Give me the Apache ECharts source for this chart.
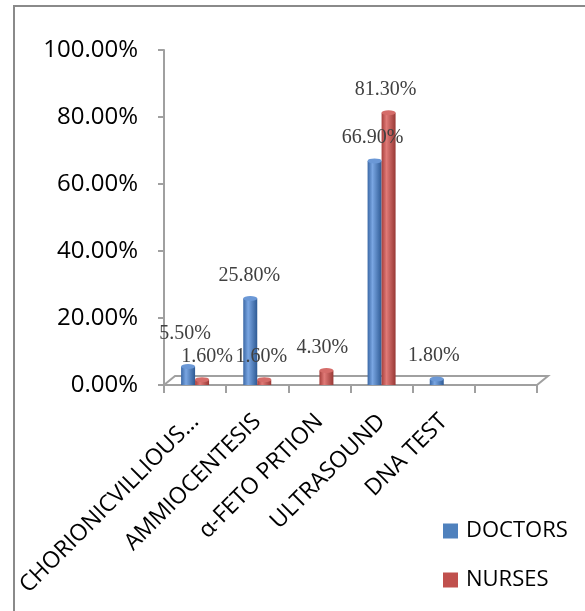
<!DOCTYPE html>
<html>
<head>
<meta charset="utf-8">
<script src="https://cdn.jsdelivr.net/npm/echarts@6/dist/echarts.min.js"></script>
<style>
  html, body { margin: 0; padding: 0; background: #fff; }
  #chart { width: 585px; height: 611px; }
</style>
</head>
<body>
<div id="chart"></div>
<script>
// Prenatal diagnostic tests known by doctors and nurses
const categories = ['CHORIONICVILLIOUS...', 'AMMIOCENTESIS', 'α-FETO PRTION', 'ULTRASOUND', 'DNA TEST', ''];
const doctors = [0.055, 0.258, null, 0.669, 0.018, null];
const nurses  = [0.016, 0.016, 0.043, 0.813, null, null];
const yTicks = [0, 0.2, 0.4, 0.6, 0.8, 1.0];

// label nudges [dx, dy] per category, kept apart from the values
const doctorNudge = [[-3, -10], [-1, 0], [0, 0], [-2, 0], [-3, 0], [0, 0]];
const nurseNudge  = [[5, 0], [-3, 0], [-4, 0], [-3, 0], [0, 0], [0, 0]];

const BLUE = '#4F81BD';
const RED = '#C0504D';

function pct(v) { return (v * 100).toFixed(2) + '%'; }

function cylinder(dark, light, edge) {
  return new echarts.graphic.LinearGradient(0, 0, 1, 0, [
    { offset: 0, color: dark },
    { offset: 0.35, color: light },
    { offset: 1, color: edge }
  ]);
}

function barData(values, nudge) {
  return values.map((v, i) => v == null ? '-' : {
    value: v,
    label: { offset: nudge[i] }
  });
}

const labelStyle = {
  show: true,
  position: 'top',
  distance: 13,
  fontFamily: 'Liberation Serif',
  fontSize: 20,
  color: '#404040',
  formatter: p => pct(p.value)
};

const chart = echarts.init(document.getElementById('chart'), null, { renderer: 'canvas' });

chart.setOption({
  animation: false,
  backgroundColor: '#fff',
  graphic: [{
    type: 'polyline',
    shape: { points: [[14, 611], [14, 6], [585, 6]] },
    style: { stroke: '#8a8a8a', lineWidth: 2, fill: null }
  }],
  grid: { left: 164, right: 48, top: 50, bottom: 226 },
  legend: {
    orient: 'vertical',
    left: 438,
    top: 515,
    itemWidth: 15,
    itemHeight: 15,
    itemGap: 27,
    icon: 'rect',
    textStyle: { fontFamily: 'Open Sans', fontSize: 22, color: '#000', padding: [0, 0, 0, 3] },
    data: [
      { name: 'DOCTORS', itemStyle: { color: BLUE } },
      { name: 'NURSES', itemStyle: { color: RED } }
    ]
  },
  xAxis: {
    type: 'category',
    data: categories,
    boundaryGap: true,
    axisLine: { show: true, lineStyle: { color: '#a0a0a0', width: 2 } },
    axisTick: { show: true, interval: 0, length: 8, lineStyle: { color: '#a0a0a0', width: 2 } },
    axisLabel: {
      interval: 0,
      rotate: 45,
      margin: 33,
      fontFamily: 'Open Sans',
      fontSize: 23,
      color: '#000'
    }
  },
  yAxis: {
    type: 'value',
    min: yTicks[0],
    max: yTicks[yTicks.length - 1],
    interval: 0.2,
    axisLine: { show: true, lineStyle: { color: '#a0a0a0', width: 2 } },
    axisTick: { show: true, length: 6, lineStyle: { color: '#a0a0a0', width: 2 } },
    splitLine: { show: false },
    axisLabel: {
      margin: 26,
      fontFamily: 'Open Sans',
      fontSize: 24,
      color: '#000',
      padding: [5, 0, 0, 0],
      formatter: v => pct(v)
    }
  },
  series: [
    {
      // floor of the plot, drawn as a shallow slab under the bars
      type: 'custom',
      silent: true,
      z: 1,
      clip: false,
      data: [[0, 0]],
      renderItem: function (params, api) {
        const bw = api.size([1, 0])[0];
        const a = api.coord([0, 0]);
        const b = api.coord([categories.length - 1, 0]);
        const x0 = a[0] - bw / 2, x1 = b[0] + bw / 2, y = a[1];
        const dx = 11, dy = -9;
        return {
          type: 'polygon',
          shape: { points: [[x0, y], [x1, y], [x1 + dx, y + dy], [x0 + dx, y + dy]] },
          style: { fill: '#fff', stroke: '#a0a0a0', lineWidth: 2 }
        };
      }
    },
    {
      name: 'DOCTORS',
      type: 'bar',
      z: 3,
      barWidth: 14,
      barGap: '0%',
      data: barData(doctors, doctorNudge),
      itemStyle: { color: cylinder('#3b68a6', '#7aa6e2', '#2e5a94') },
      label: labelStyle
    },
    {
      name: 'NURSES',
      type: 'bar',
      z: 3,
      barWidth: 14,
      barGap: '0%',
      data: barData(nurses, nurseNudge),
      itemStyle: { color: cylinder('#a63f3c', '#e07a77', '#983835') },
      label: labelStyle
    },
    {
      name: 'DOCTORS cap',
      type: 'pictorialBar',
      z: 4,
      barWidth: 14,
      barGap: '0%',
      symbol: 'circle',
      symbolSize: [14, 5],
      symbolPosition: 'end',
      symbolOffset: [0, '-50%'],
      data: doctors.map(v => v == null ? '-' : v),
      itemStyle: { color: '#6b98d6' },
      silent: true
    },
    {
      name: 'NURSES cap',
      type: 'pictorialBar',
      z: 4,
      barWidth: 14,
      barGap: '0%',
      symbol: 'circle',
      symbolSize: [14, 5],
      symbolPosition: 'end',
      symbolOffset: [0, '-50%'],
      data: nurses.map(v => v == null ? '-' : v),
      itemStyle: { color: '#d56c69' },
      silent: true
    }
  ]
});
</script>
</body>
</html>
